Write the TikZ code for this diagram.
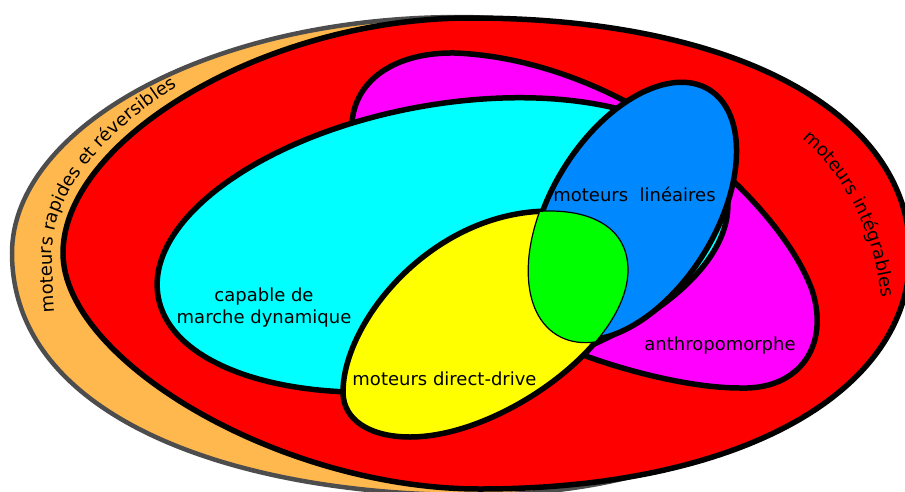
\documentclass[tikz,border=0pt]{standalone}
\usepackage{fontspec}
\setmainfont{DejaVu Sans}
\usetikzlibrary{decorations.text}
\definecolor{orangeband}{RGB}{255,184,77}
\definecolor{grayrim}{RGB}{77,77,77}
\definecolor{bluezone}{RGB}{0,136,255}
\definecolor{cyanzone}{RGB}{0,255,255}
\definecolor{magentazone}{RGB}{255,0,255}
\definecolor{yellowzone}{RGB}{255,255,0}
\definecolor{greenzone}{RGB}{0,255,0}
\definecolor{redzone}{RGB}{255,0,0}
\newcommand\YelPath{(343,392) .. controls (343,322) and (432,211) .. (550,211) .. controls (595,211) and (628,230) .. (628,270) .. controls (628,345) and (500,437) .. (410,437) .. controls (370,437) and (343,420) .. (343,392) -- cycle}
\newcommand\BlueEll[1]{(633.7,211.1) ellipse [x radius={143pt+#1}, y radius={82pt+#1}]}
\begin{document}
\begin{tikzpicture}[x=1pt,y=-1pt,
  zone/.style={draw=black, line width=5.5pt, line join=round},
  bluerot/.style={rotate around={58:(633.7,211.1)}},
  lbl/.style={font=\fontsize{18}{22}\selectfont, inner sep=0pt, text=black}]
\useasboundingbox (0,0) rectangle (905,491);
\clip (0,0) rectangle (905,491);
% outer orange set
\filldraw[fill=orangeband, draw=grayrim, line width=4.5pt] (12,253) .. controls (12,130) and (205,17) .. (460,17) .. controls (620,17) and (850,120) .. (850,254) .. controls (850,400) and (700,495) .. (470,495) .. controls (240,495) and (12,420) .. (12,253) -- cycle;
% red set
\filldraw[zone, fill=redzone] (63,253) .. controls (63,140) and (265,18) .. (470,18) .. controls (740,18) and (910,115) .. (910,254) .. controls (910,395) and (735,489) .. (480,489) .. controls (280,489) and (63,360) .. (63,253) -- cycle;
% magenta set
\filldraw[zone, fill=magentazone] (352,135) .. controls (348,85) and (390,52) .. (455,53) .. controls (530,56) and (600,85) .. (650,115) .. controls (720,160) and (790,230) .. (812,290) .. controls (830,345) and (800,390) .. (740,388) .. controls (690,388) and (620,370) .. (570,350) -- (480,300) -- (400,200) -- cycle;
% cyan set
\filldraw[zone, fill=cyanzone, rotate around={10.4:(442.5,245)}] (442.5,245) ellipse [x radius=289pt, y radius=140pt];
% yellow set
\filldraw[zone, fill=yellowzone] \YelPath;
% blue set
\filldraw[zone, fill=bluezone, bluerot] \BlueEll{0pt};
% green intersection
\begin{scope}
  \clip \YelPath;
  \filldraw[fill=greenzone, draw=black, line width=1.2pt, bluerot] \BlueEll{2.75pt};
\end{scope}
\begin{scope}
  \clip[bluerot] \BlueEll{2.75pt};
  \draw[line width=1.2pt] \YelPath;
\end{scope}
% labels
\node[lbl, align=center] (cap) at (264,308) {capable de\\marche dynamique};
\node[lbl, anchor=base] (lin) at (634.5,201.5) {moteurs\ \ linéaires};
\node[lbl, anchor=base] (anth) at (720,350) {anthropomorphe};
\node[lbl, anchor=base] (dd) at (444.5,385) {moteurs direct-drive};
\path[decorate, decoration={text along path, text={|\fontsize{18}{22}\selectfont|moteurs rapides et réversibles}}] (55,312) .. controls (53,285) and (52,265) .. (52,253) .. controls (52,135) and (255,5) .. (470,5);
\path[decorate, decoration={text along path, text={|\fontsize{18}{22}\selectfont|moteurs intégrables}}] (802,139) .. controls (845,175) and (880,235) .. (885,330);
\end{tikzpicture}
\end{document}
